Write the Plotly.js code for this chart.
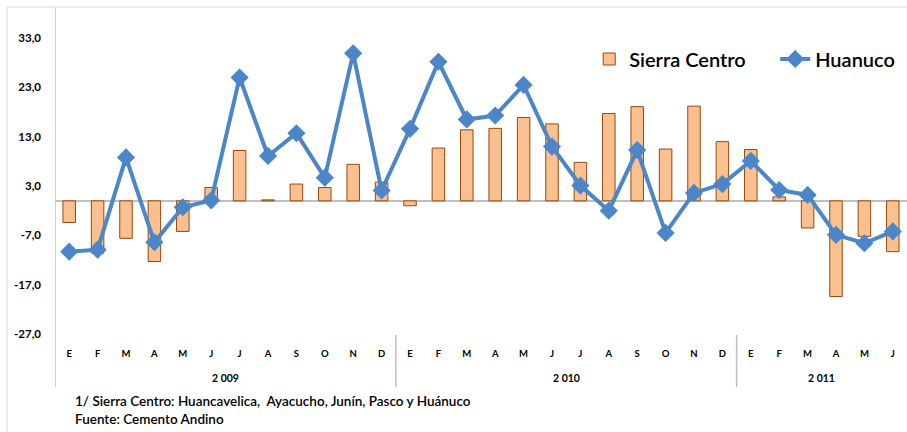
<!DOCTYPE html>
<html>
<head>
<meta charset="utf-8">
<script src="https://cdn.plot.ly/plotly-3.0.1.min.js"></script>
<style>html,body{margin:0;padding:0;background:#fff;}#chart{width:907px;height:432px;}</style>
</head>
<body>
<div id="chart"></div>
<script>
// ---- data ----
const months = ['E','F','M','A','M','J','J','A','S','O','N','D',
                'E','F','M','A','M','J','J','A','S','O','N','D',
                'E','F','M','A','M','J'];
const years = ['2 009', '2 010', '2 011'];
const monthsPerYear = [12, 12, 6];
const sierraCentro = [-4.4, -10.6, -7.6, -12.3, -6.2, 2.7, 10.2, 0.2, 3.4, 2.7, 7.4, 3.8,
                      -1.0, 10.7, 14.4, 14.7, 16.9, 15.6, 7.8, 17.7, 19.1, 10.5, 19.2, 12.0,
                      10.4, 0.8, -5.5, -19.4, -7.2, -10.3];
const huanuco = [-10.3, -9.9, 8.8, -8.4, -1.3, 0.1, 25.0, 9.1, 13.7, 4.7, 29.9, 2.1,
                 14.6, 28.2, 16.5, 17.3, 23.5, 11.0, 3.1, -2.0, 10.3, -6.5, 1.6, 3.4,
                 8.1, 2.2, 1.2, -6.9, -8.6, -6.2];
const yTickVals = [-27, -17, -7, 3, 13, 23, 33];
const yTickText = ['-27,0', '-17,0', '-7,0', '3,0', '13,0', '23,0', '33,0'];
const footnotes = ['1/ Sierra Centro: Huancavelica,  Ayacucho, Junín, Pasco y Huánuco',
                   'Fuente: Cemento Andino'];

// ---- build ----
const xIdx = months.map((m, i) => i);
const FONT = 'Lato, "Open Sans", sans-serif';
const GRAY = '#bfbfbf';

const traces = [
  {
    type: 'bar', name: 'Sierra Centro', x: xIdx, y: sierraCentro,
    marker: {color: '#fac090', line: {color: '#98480a', width: 1}}
  },
  {
    type: 'scatter', mode: 'lines+markers', name: 'Huanuco', x: xIdx, y: huanuco,
    line: {color: '#4a86c8', width: 4},
    marker: {symbol: 'diamond', size: 14, color: '#4a86c8'}
  }
];

// dividers & year labels
const shapes = [];
const annotations = [];
const yBottom = -0.162;
let start = 0;
shapes.push({type: 'line', xref: 'x', yref: 'paper', x0: -0.5, x1: -0.5, y0: 1, y1: yBottom,
             line: {color: GRAY, width: 1.5}});
years.forEach((yr, k) => {
  const end = start + monthsPerYear[k];
  if (k < years.length - 1) {
    shapes.push({type: 'line', xref: 'x', yref: 'paper', x0: end - 0.5, x1: end - 0.5,
                 y0: -0.003, y1: yBottom, line: {color: GRAY, width: 1.5}});
  }
  annotations.push({xref: 'x', yref: 'paper', x: (start + end - 1) / 2, y: -0.1346,
                    text: '<b>' + yr + '</b>', showarrow: false, yanchor: 'middle',
                    font: {family: FONT, size: 10.5, color: '#000'}});
  start = end;
});
// outer frame
shapes.push({type: 'line', xref: 'paper', yref: 'paper', x0: -0.0563, x1: 1, y0: 1, y1: 1,
             line: {color: '#d9d9d9', width: 1}});
shapes.push({type: 'line', xref: 'paper', yref: 'paper', x0: -0.0563, x1: -0.0563, y0: 1, y1: -0.31,
             line: {color: '#d9d9d9', width: 1}});

footnotes.forEach((t, i) => {
  annotations.push({xref: 'paper', yref: 'paper', x: 0.0211, y: -0.2049 - i * 0.055,
                    xanchor: 'left', yanchor: 'middle', text: t, showarrow: false,
                    font: {family: FONT, size: 13.5, weight: 600, color: '#000'}});
});

const layout = {
  width: 907, height: 432,
  margin: {l: 55, r: 0, t: 7, b: 98, pad: 0, autoexpand: false},
  paper_bgcolor: '#fff', plot_bgcolor: '#fff',
  showlegend: true,
  legend: {orientation: 'h', x: 0.627, y: 0.841, xanchor: 'left', yanchor: 'middle',
           entrywidth: 141, entrywidthmode: 'pixels',
           font: {family: FONT, size: 20, weight: 600, color: '#000'}, bgcolor: 'rgba(0,0,0,0)'},
  bargap: 0.56,
  xaxis: {
    type: 'linear', range: [-0.5, 29.5], tickvals: xIdx,
    ticktext: months.map(m => '<b>' + m + '</b>'),
    showgrid: false, zeroline: false, showline: false, ticks: '',
    ticklabelstandoff: 12, automargin: false,
    tickfont: {family: FONT, size: 9.5, color: '#000'}, fixedrange: true
  },
  yaxis: {
    range: [-27, 39.3], tickvals: yTickVals,
    ticktext: yTickText.map(t => '<b>' + t + '</b>'),
    showgrid: false, zeroline: true, zerolinecolor: GRAY, zerolinewidth: 1.5,
    showline: false, ticks: '', ticklabelstandoff: 13, automargin: false,
    tickfont: {family: FONT, size: 11.5, color: '#000'}, fixedrange: true
  },
  shapes: shapes,
  annotations: annotations
};

Plotly.newPlot('chart', traces, layout, {displayModeBar: false, staticPlot: true});
</script>
</body>
</html>
